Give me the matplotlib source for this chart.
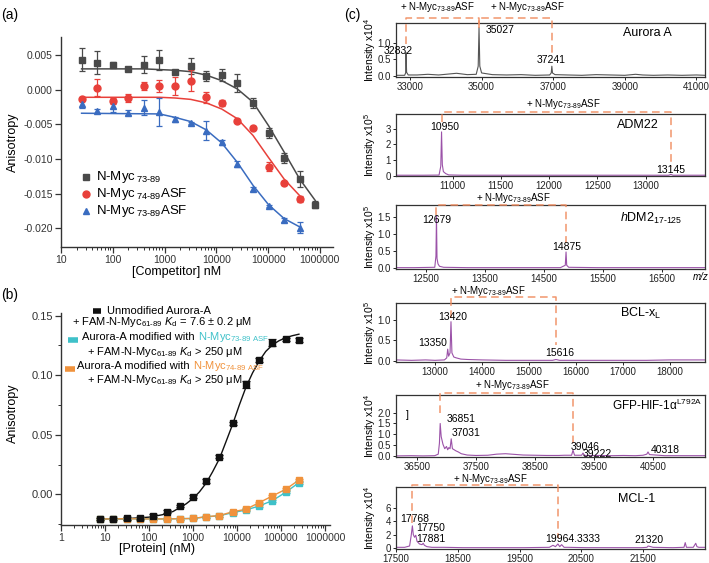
import matplotlib
matplotlib.use('Agg')
import matplotlib.pyplot as plt
from matplotlib.lines import Line2D
from matplotlib.ticker import LogLocator, NullFormatter, FixedLocator
from matplotlib.transforms import blended_transform_factory

plt.rcParams['font.family'] = ['Liberation Sans', 'DejaVu Sans']
plt.rcParams['axes.unicode_minus'] = False
plt.rcParams['mathtext.fontset'] = 'custom'
plt.rcParams['mathtext.rm'] = 'Liberation Sans'
plt.rcParams['mathtext.it'] = 'Liberation Sans:italic'
plt.rcParams['mathtext.bf'] = 'Liberation Sans:bold'

W, H = 709, 563

# ---------------- panel (a): competition FA ----------------
comp_nM = [25, 50, 100, 200, 400, 800, 1600, 3200, 6400, 12800, 25600, 51200,
           102400, 204800, 409600, 819200]
myc73_y = [0.00435, 0.0039, 0.0036, 0.0030, 0.0036, 0.0043, 0.0026, 0.0034, 0.0020,
           0.0021, 0.0009, -0.0019, -0.0063, -0.0099, -0.0129, -0.0166]
myc73_err = [0.0017, 0.0017, 0.0004, 0.0002, 0.0012, 0.0014, 0.0002, 0.0012, 0.0007,
             0.0009, 0.0013, 0.0007, 0.0007, 0.0007, 0.0012, 0.0005]
myc74asf_y = [-0.0014, 0.0003, -0.0016, -0.0012, 0.0005, 0.0005, 0.0006, 0.0013, -0.0011,
              -0.0019, -0.0045, -0.0055, -0.0111, -0.0135, -0.0158]
myc74asf_err = [0.0003, 0.0012, 0.0004, 0.0006, 0.0006, 0.0009, 0.0013, 0.0015, 0.0008,
                0.0004, 0.0002, 0.0002, 0.0007, 0.0002, 0.0004]
myc73asf_y = [-0.0020, -0.0031, -0.0024, -0.0033, -0.0026, -0.0032, -0.0043, -0.0048,
              -0.0059, -0.0076, -0.0107, -0.0143, -0.0168, -0.0188, -0.0199]
myc73asf_err = [0.0006, 0.0003, 0.0008, 0.0003, 0.0011, 0.0020, 0.0004, 0.0002, 0.0014,
                0.0004, 0.0004, 0.0003, 0.0002, 0.0003, 0.0008]

# fitted curves
fit73_x = [25, 400, 1600, 3200, 6400, 12800, 25600, 51200, 102400, 204800, 409600, 819200]
fit73_y = [0.0030, 0.0030, 0.0028, 0.0026, 0.0021, 0.0013, 0.0001, -0.0018, -0.0052,
           -0.0090, -0.0129, -0.0160]
fitasf_x = [25, 800, 1600, 3200, 6400, 12800, 25600, 51200, 102400, 204800, 409600]
fit74asf_y = [-0.0011, -0.0011, -0.0012, -0.0014, -0.0019, -0.0028, -0.0042, -0.0066,
              -0.0098, -0.0129, -0.0153]
fit73asf_y = [-0.0034, -0.0035, -0.0040, -0.0046, -0.0058, -0.0077, -0.0105, -0.0138,
              -0.0166, -0.0186, -0.0198]

# ---------------- panel (b): direct FA ----------------
prot_nM = [7.8, 15.6, 31.25, 62.5, 125, 250, 500, 1000, 2000, 4000, 8000, 16000,
           32000, 64000, 128000, 256000]
unmod_y = [-0.0207, -0.0207, -0.0202, -0.0199, -0.0179, -0.0146, -0.0098, -0.0020,
           0.0112, 0.0316, 0.0596, 0.0923, 0.1128, 0.1273, 0.1301, 0.1296]
unmod_err = [0.001, 0.001, 0.001, 0.001, 0.001, 0.001, 0.0012, 0.0015, 0.002, 0.0012,
             0.0012, 0.003, 0.002, 0.003, 0.0012, 0.002]
mod73_y = [-0.0207, -0.0207, -0.0205, -0.0207, -0.0207, -0.0207, -0.0205, -0.0203,
           -0.0190, -0.0180, -0.0154, -0.0132, -0.0098, -0.0053, 0.0017, 0.0098]
mod74_y = [-0.0207, -0.0207, -0.0205, -0.0207, -0.0207, -0.0207, -0.0205, -0.0203,
           -0.0188, -0.0179, -0.0146, -0.0126, -0.0070, -0.0014, 0.0042, 0.0120]
mod_err = [0.0008] * 16
unmod_fit_x = [7.8, 30, 100, 200, 350, 500, 700, 1000, 1400, 2000, 2800, 4000, 5600,
               8000, 11300, 16000, 22600, 32000, 45000, 64000, 90000, 128000, 180000, 256000]
unmod_fit_y = [-0.0207, -0.0205, -0.0192, -0.0172, -0.0145, -0.0112, -0.0080, -0.0035,
               0.0020, 0.0095, 0.0190, 0.0300, 0.0440, 0.0590, 0.0750, 0.0900, 0.1020,
               0.1120, 0.1200, 0.1255, 0.1290, 0.1315, 0.1332, 0.1345]

# ---------------- panel (c): mass spectra ----------------
aurora_mz = [32609, 32850, 32878, 32890, 32905, 32950, 33200, 33500, 33800, 34100, 34300,
             34600, 34850, 34905, 34928, 34950, 35000, 35300, 35700, 36100, 36500, 36900,
             36945, 36962, 36980, 37050, 37400, 37800, 38200, 38600, 39000, 39300, 39500,
             39800, 40200, 40600, 41000, 41240]
aurora_int = [0.03, 0.03, 0.10, 0.70, 0.12, 0.04, 0.04, 0.06, 0.04, 0.07, 0.09,
              0.05, 0.06, 0.30, 1.45, 0.30, 0.10, 0.05, 0.04, 0.05, 0.03, 0.04,
              0.10, 0.30, 0.10, 0.05, 0.04, 0.03, 0.05, 0.04, 0.03, 0.06, 0.04,
              0.03, 0.04, 0.03, 0.04, 0.03]
adm_mz = [10414, 10700, 10860, 10878, 10886, 10894, 10905, 10930, 10960, 11100, 11500,
          12000, 12500, 13000, 13240, 13262, 13285, 13400, 13616]
adm_int = [0.02, 0.02, 0.03, 0.6, 2.8, 0.7, 0.25, 0.12, 0.04, 0.02, 0.02,
           0.02, 0.02, 0.02, 0.02, 0.07, 0.02, 0.02, 0.02]
hdm_mz = [11993, 12300, 12650, 12670, 12679, 12688, 12705, 12730, 12800, 13200, 13700,
          14200, 14780, 14862, 14875, 14886, 14920, 15400, 15900, 16500, 17230]
hdm_int = [0.01, 0.01, 0.02, 0.35, 1.52, 0.28, 0.12, 0.05, 0.02, 0.01, 0.01,
           0.01, 0.01, 0.08, 0.47, 0.08, 0.02, 0.01, 0.01, 0.01, 0.01]
bcl_mz = [12170, 12500, 12800, 13000, 13200, 13250, 13270, 13290, 13320, 13340, 13360,
          13400, 13450, 13550, 13700, 14000, 14500, 15000, 15500, 15574, 15650, 16000,
          16500, 17000, 17500, 18000, 18745]
bcl_int = [0.03, 0.02, 0.03, 0.02, 0.03, 0.08, 0.29, 0.12, 0.20, 0.95, 0.20,
           0.10, 0.08, 0.05, 0.04, 0.03, 0.02, 0.02, 0.02, 0.04, 0.02, 0.02,
           0.02, 0.02, 0.02, 0.03, 0.03]
gfp_mz = [36144, 36400, 36600, 36800, 36860, 36880, 36893, 36910, 36940, 36970, 37000,
          37020, 37040, 37060, 37080, 37100, 37130, 37160, 37200, 37250, 37350, 37500,
          37700, 37850, 38000, 38150, 38300, 38500, 38700, 38900, 39000, 39120, 39144,
          39170, 39290, 39313, 39340, 39600, 39800, 40000, 40200, 40330, 40395, 40415,
          40440, 40700, 41000, 41381]
gfp_int = [0.02, 0.03, 0.02, 0.03, 0.10, 0.6, 1.5, 0.9, 0.55, 0.35, 0.45,
           0.30, 0.40, 0.35, 0.80, 0.35, 0.30, 0.25, 0.20, 0.12, 0.06, 0.04,
           0.05, 0.10, 0.12, 0.09, 0.06, 0.05, 0.04, 0.04, 0.05, 0.05, 0.28,
           0.05, 0.05, 0.15, 0.04, 0.04, 0.03, 0.04, 0.03, 0.05, 0.10, 0.20,
           0.08, 0.03, 0.03, 0.03]
mcl_mz = [17500, 17640, 17720, 17745, 17765, 17780, 17800, 17820, 17840, 17880, 17920,
          17940, 17960, 18000, 18080, 18280, 18580, 19080, 19580, 19980, 20040, 20080,
          20120, 20150, 20180, 20220, 20280, 20580, 21080, 21480, 21560, 21580, 21660,
          21980, 22160, 22180, 22200, 22310, 22350, 22370, 22400, 22500]
mcl_int = [0.1, 0.1, 0.3, 1.8, 3.3, 2.0, 1.6, 1.9, 1.0, 0.6, 0.5,
           0.7, 0.4, 0.2, 0.1, 0.1, 0.05, 0.05, 0.05, 0.1, 0.4, 0.2,
           0.6, 0.2, 0.5, 0.1, 0.1, 0.05, 0.05, 0.05, 0.1, 0.3, 0.1,
           0.05, 0.1, 0.8, 0.1, 0.1, 0.7, 0.2, 0.1, 0.1]

fig = plt.figure(figsize=(W / 100, H / 100), dpi=100)


def box(l, t, r, b):
    return [l / W, 1 - b / H, (r - l) / W, (b - t) / H]


def ptext(x, y, s, **kw):
    kw.setdefault('ha', 'center')
    kw.setdefault('va', 'center')
    return fig.text(x / W, 1 - y / H, s, **kw)


def sub(s):
    return r'$_{\text{' + s + '}}$'


def log_axis(ax, labels):
    ax.set_xscale('log')
    ax.xaxis.set_major_locator(FixedLocator([float(v) for v in labels]))
    ax.set_xticklabels(labels)
    ax.xaxis.set_minor_locator(LogLocator(base=10, subs=range(2, 10), numticks=20))
    ax.xaxis.set_minor_formatter(NullFormatter())
    for s in ['top', 'right']:
        ax.spines[s].set_visible(False)
    for s in ['left', 'bottom']:
        ax.spines[s].set_linewidth(1.0)
        ax.spines[s].set_color('#333333')
    ax.tick_params(which='major', length=4, width=0.9, colors='#333333', labelsize=7.5, pad=2)
    ax.tick_params(which='minor', length=2, width=0.7, colors='#333333')


# ---- (a)
ax_a = fig.add_axes(box(61, 37, 333, 247))
c_gray, c_red, c_blue = '#4a4a4a', '#e8403a', '#3a6cc0'
ax_a.plot(fit73_x, fit73_y, color=c_gray, lw=1.1)
ax_a.plot(fitasf_x, fit74asf_y, color=c_red, lw=1.1)
ax_a.plot(fitasf_x, fit73asf_y, color=c_blue, lw=1.1)
ek = dict(capsize=2.5, elinewidth=0.9, capthick=0.9, ls='none')
ax_a.errorbar(comp_nM, myc73_y, yerr=myc73_err, fmt='s', ms=4.5, color=c_gray, **ek)
ax_a.errorbar(comp_nM[:15], myc74asf_y, yerr=myc74asf_err, fmt='o', ms=5, color=c_red, **ek)
ax_a.errorbar(comp_nM[:15], myc73asf_y, yerr=myc73asf_err, fmt='^', ms=5, color=c_blue, **ek)
log_axis(ax_a, ['10', '100', '1000', '10000', '100000', '1000000'])
ax_a.set_xlim(10, 1.8e6)
ax_a.set_ylim(-0.0227, 0.0076)
ax_a.set_yticks([0.005, 0.0, -0.005, -0.010, -0.015, -0.020])
ax_a.set_yticklabels(['0.005', '0.000', '-0.005', '-0.010', '-0.015', '-0.020'])
ptext(13, 142, 'Anisotropy', rotation=90, fontsize=9)
ptext(177, 272, '[Competitor] nM', fontsize=9)
ptext(10, 15, '(a)', fontsize=10)

leg_a = [('s', c_gray, 177, r'N-Myc$\,$' + sub('73-89')),
         ('o', c_red, 194, r'N-Myc$\,$' + sub('74-89') + 'ASF'),
         ('^', c_blue, 211, r'N-Myc$\,$' + sub('73-89') + 'ASF')]
for m, c, y, s in leg_a:
    fig.add_artist(Line2D([86 / W], [1 - y / H], marker=m, color=c, ms=5,
                          transform=fig.transFigure, ls='none'))
    ptext(96, y, s, ha='left', fontsize=9.5)

# ---- (b)
ax_b = fig.add_axes(box(61, 313, 330, 525))
c_blk, c_cyan, c_orange = '#111111', '#3fc1c9', '#f0923c'
ax_b.plot(unmod_fit_x, unmod_fit_y, color=c_blk, lw=1.0)
ax_b.plot(prot_nM, mod73_y, color=c_cyan, lw=1.0)
ax_b.plot(prot_nM, mod74_y, color=c_orange, lw=1.0)
ekb = dict(capsize=3, elinewidth=0.9, capthick=0.9, ls='none')
ax_b.errorbar(prot_nM, mod73_y, yerr=mod_err, fmt='s', ms=4, color=c_cyan, **ekb)
ax_b.errorbar(prot_nM, mod74_y, yerr=mod_err, fmt='s', ms=4, color=c_orange, **ekb)
ax_b.errorbar(prot_nM, unmod_y, yerr=unmod_err, fmt='s', ms=4, color=c_blk, **ekb)
log_axis(ax_b, ['1', '10', '100', '1000', '10000', '100000', '1000000'])
ax_b.set_xlim(1, 1.3e6)
ax_b.set_ylim(-0.0258, 0.1523)
ax_b.set_yticks([0.0, 0.05, 0.10, 0.15])
ax_b.set_yticklabels(['0.00', '0.05', '0.10', '0.15'])
ax_b.yaxis.set_minor_locator(FixedLocator([-0.025, 0.025, 0.075, 0.125]))
ax_b.tick_params(axis='y', labelsize=8)
ptext(13, 413, 'Anisotropy', rotation=90, fontsize=9)
ptext(157, 549, '[Protein] (nM)', fontsize=9)
ptext(10, 295, '(b)', fontsize=10)

fam = r'+ FAM-N-Myc' + sub('61-89') + r' $K_\mathrm{d}$'
for x0, x1, y, c in [(93, 101, 311, c_blk), (68, 78, 340, c_cyan), (65, 75, 369, c_orange)]:
    fig.add_artist(Line2D([x0 / W, x1 / W], [1 - y / H] * 2, color=c, lw=4,
                          transform=fig.transFigure, solid_capstyle='butt'))
fs_b = 8
ptext(107, 311, 'Unmodified Aurora-A', ha='left', fontsize=fs_b)
ptext(72, 322, fam + ' = 7.6 ± 0.2 μM', ha='left', fontsize=fs_b)
for x, y, c, s in [(82, 340, c_cyan, '73-89 ASF'), (77, 369, c_orange, '74-89 ASF')]:
    t1 = ptext(x, y, 'Aurora-A modified with', ha='left', va='baseline', fontsize=fs_b)
    ax_b.annotate(' N-Myc' + sub(s), xy=(1, 1 - y / H), xycoords=(t1, 'figure fraction'),
                  ha='left', va='baseline', fontsize=fs_b, color=c, annotation_clip=False)
ptext(87, 352, fam + ' > 250 μM', ha='left', fontsize=fs_b)
ptext(87, 380, fam + ' > 250 μM', ha='left', fontsize=fs_b)

# ---- (c)
ptext(352, 15, '(c)', fontsize=10)
c_ms_gray, c_purple, c_dash = '#555555', '#9b52a8', '#f08a5d'

spectra = [
    dict(tb=(23, 77), mz=aurora_mz, it=aurora_int, col=c_ms_gray, xl=(32609, 41240),
         yl=(-0.02, 1.58), xt=[33000, 35000, 37000, 39000, 41000], yt=[0, 0.5, 1.0],
         ytl=['0.0', '0.5', '1.0'], exp='4'),
    dict(tb=(114, 176), mz=adm_mz, it=adm_int, col=c_purple, xl=(10414, 13616),
         yl=(-0.03, 3.95), xt=[11000, 11500, 12000, 12500, 13000], yt=[0, 1, 2, 3],
         ytl=['0', '1', '2', '3'], exp='5'),
    dict(tb=(205, 269), mz=hdm_mz, it=hdm_int, col=c_purple, xl=(11993, 17230),
         yl=(-0.03, 1.85), xt=[12500, 13500, 14500, 15500, 16500], yt=[0, 0.5, 1.0, 1.5],
         ytl=['0.0', '0.5', '1.0', '1.5'], exp='5'),
    dict(tb=(303, 362), mz=bcl_mz, it=bcl_int, col=c_purple, xl=(12170, 18745),
         yl=(-0.02, 1.40), xt=[13000, 14000, 15000, 16000, 17000, 18000], yt=[0, 0.5, 1.0],
         ytl=['0.0', '0.5', '1.0'], exp='5'),
    dict(tb=(395, 457), mz=gfp_mz, it=gfp_int, col=c_purple, xl=(36144, 41381),
         yl=(-0.03, 2.8), xt=[36500, 37500, 38500, 39500, 40500],
         yt=[0, 0.5, 1.0, 1.5, 2.0], ytl=['0.0', '0.5', '1.0', '1.5', '2.0'], exp='4'),
    dict(tb=(487, 549), mz=mcl_mz, it=mcl_int, col=c_purple, xl=(17500, 22500),
         yl=(-0.15, 9.1), xt=[17500, 18500, 19500, 20500, 21500], yt=[0, 2, 4, 6],
         ytl=['0', '2', '4', '6'], exp='4'),
]
axes_c = []
for sp in spectra:
    t, b = sp['tb']
    ax = fig.add_axes(box(396, t, 705, b))
    ax.plot(sp['mz'], sp['it'], color=sp['col'], lw=0.8)
    ax.set_xlim(*sp['xl'])
    ax.set_ylim(*sp['yl'])
    ax.set_xticks(sp['xt'])
    ax.set_xticklabels([str(v) for v in sp['xt']])
    ax.set_yticks(sp['yt'])
    ax.set_yticklabels(sp['ytl'])
    ax.tick_params(labelsize=7, length=2.5, width=0.7, pad=1.0, colors='#222222')
    for s in ax.spines.values():
        s.set_linewidth(0.9)
        s.set_color('#333333')
    ptext(370, (t + b) / 2, 'Intensity x10$^{' + sp['exp'] + '}$', rotation=90, fontsize=7.5)
    axes_c.append(ax)

# dashed mass-shift brackets: (axis, x_left, x_right, top_px, left_bottom_px, right_bottom_px)
brackets = [(0, 32890, 34928, 18, 44, 28), (0, 34928, 36962, 18, 28, 57),
            (1, 10886, 13262, 112, 122, 167), (2, 12679, 14875, 205, 215, 243),
            (3, 13340, 15574, 297, 318, 345), (4, 36890, 39144, 393, 413, 443),
            (5, 17765, 20120, 485, 523, 538)]
for i, xl_, xr_, top, lb, rb in brackets:
    tr = blended_transform_factory(axes_c[i].transData, fig.transFigure)
    fig.add_artist(Line2D([xl_, xl_, xr_, xr_], [1 - lb / H, 1 - top / H, 1 - top / H, 1 - rb / H],
                          transform=tr, color=c_dash, lw=1.1, ls=(0, (5, 3)), alpha=0.9))

shift = '+ N-Myc' + sub('73-89') + 'ASF'
for x, y in [(437, 7), (527, 7), (563, 104), (513, 198), (488, 291), (512, 385), (490, 479)]:
    ptext(x, y, shift, fontsize=7)

peak_labels = [('32832', 398, 51), ('35027', 500, 30), ('37241', 551, 60),
               ('10950', 445, 127), ('13145', 671, 170),
               ('12679', 437, 220), ('14875', 567, 247),
               ('13420', 453, 317), ('13350', 433, 343), ('15616', 560, 353),
               ('36851', 461, 419), ('37031', 466, 433), ('39046', 585, 447),
               ('39222', 597, 454), ('40318', 665, 450), (']', 407, 415),
               ('17768', 415, 519), ('17750', 431, 528), ('17881', 431, 539),
               ('19964.3333', 573, 539), ('21320', 649, 540)]
for s, x, y in peak_labels:
    ptext(x, y, s, fontsize=7.5)

ptext(647, 33, 'Aurora A', fontsize=9)
ptext(638, 125, 'ADM22', fontsize=9)
ptext(620, 218, r'$\mathit{h}$DM2' + sub('17-125'), ha='left', fontsize=9)
ptext(620, 313, 'BCL-x' + sub('L'), ha='left', fontsize=9)
ptext(702, 405, r'GFP-HIF-1α$^{\text{L792A}}$', ha='right', fontsize=8.5)
ptext(637, 499, 'MCL-1', fontsize=9)
ptext(709, 277, 'm/z', style='italic', fontsize=7, ha='right')

fig.savefig('out.png', dpi=100)
